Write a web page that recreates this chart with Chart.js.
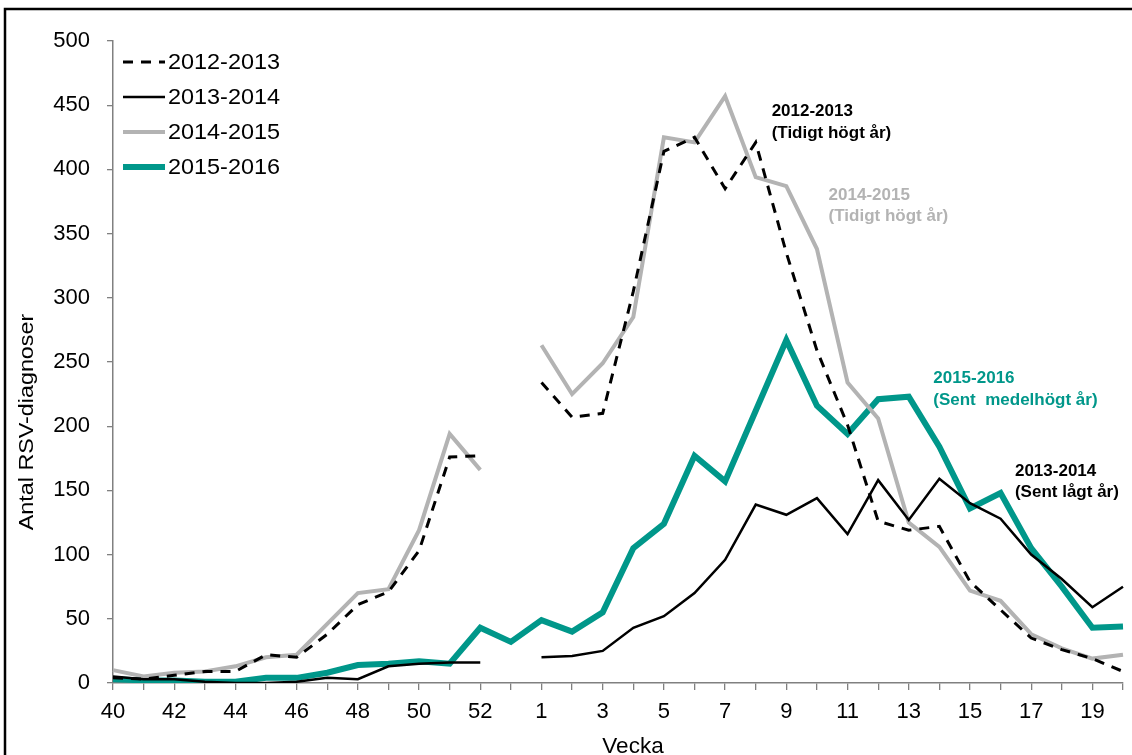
<!DOCTYPE html>
<html>
<head>
<meta charset="utf-8">
<script src="https://cdn.jsdelivr.net/npm/chart.js@4.4.1/dist/chart.umd.min.js"></script>
<style>
  body { margin: 0; background: #fff; }
  #wrap { width: 1132px; height: 755px; position: relative; }
</style>
</head>
<body>
<div id="wrap"><canvas id="chart"></canvas></div>
<script>
// weeks 40..53, then 1..20
const weeks = ['40','41','42','43','44','45','46','47','48','49','50','51','52','53',
  '1','2','3','4','5','6','7','8','9','10','11','12','13','14','15','16','17','18','19','20'];

// 2012-2013 (dashed)
const s2012 = [4, 3, 6, 9, 9, 22, 20, 38, 61, 71, 103, 176, 177, null,
  234, 207, 210, 305, 414, 425, 385, 421, 335, 259, 201, 126, 119, 122, 79, 57, 35, 26, 19, 9];
// 2013-2014
const s2013 = [5, 3, 3, 1, 0, 0, 1, 4, 3, 13, 15, 16, 16, null,
  20, 21, 25, 43, 52, 70, 96, 139, 131, 144, 116, 158, 127, 159, 140, 128, 100, 81, 59, 75];
// 2014-2015
const s2014 = [10, 5, 8, 9, 13, 20, 22, 46, 70, 73, 119, 194, 166, null,
  263, 225, 249, 285, 425, 421, 457, 394, 387, 338, 234, 206, 125, 106, 72, 64, 38, 27, 19, 22];
// 2015-2016
const s2015 = [3, 2, 2, 1, 1, 4, 4, 8, 14, 15, 17, 15, 43, 32,
  49, 40, 55, 105, 124, 177, 157, 212, 267, 216, 194, 221, 223, 184, 136, 148, 105, 75, 43, 44];

const seriesNames = ['2012-2013', '2013-2014', '2014-2015', '2015-2016'];

const TEAL = '#00978a';
const GREY = '#b3b3b3';
const FONT = "'Liberation Sans', Arial, sans-serif";

// notes on the chart: position in week-index / value units
const notes = [
  { lines: ['2012-2013', '(Tidigt högt år)'], x: 21.52, y: 445, color: '#000' },
  { lines: ['2014-2015', '(Tidigt högt år)'], x: 23.38, y: 380, color: GREY },
  { lines: ['2015-2016', '(Sent  medelhögt år)'], x: 26.8, y: 237, color: TEAL },
  { lines: ['2013-2014', '(Sent lågt år)'], x: 29.47, y: 165, color: '#000' }
];

// text a bit wider than the font, like the original
function wideText(ctx, txt, x, y, sx) {
  ctx.save();
  ctx.translate(x, y);
  ctx.scale(sx, 1);
  ctx.fillText(txt, 0, 0);
  ctx.restore();
}

const extras = {
  id: 'extras',
  afterDraw(chart) {
    const ctx = chart.ctx;
    const xs = chart.scales.x, ys = chart.scales.y;
    ctx.save();

    // frame
    ctx.strokeStyle = '#000';
    ctx.lineWidth = 2.5;
    ctx.beginPath();
    ctx.moveTo(5, 760);
    ctx.lineTo(5, 9);
    ctx.lineTo(1140, 9);
    ctx.stroke();

    // notes
    ctx.font = 'bold 17px ' + FONT;
    ctx.textAlign = 'left';
    ctx.textBaseline = 'middle';
    notes.forEach(n => {
      const px = xs.getPixelForValue(n.x);
      const py = ys.getPixelForValue(n.y);
      ctx.fillStyle = n.color;
      n.lines.forEach((t, i) => ctx.fillText(t, px, py + i * 21.5));
    });

    // legend
    ctx.font = '22px ' + FONT;
    chart.data.datasets.forEach((ds, i) => {
      const y = 62 + i * 35;
      ctx.strokeStyle = ds.borderColor;
      ctx.lineWidth = ds.borderWidth;
      ctx.setLineDash(ds.borderDash || []);
      ctx.beginPath();
      ctx.moveTo(123, y);
      ctx.lineTo(165, y);
      ctx.stroke();
      ctx.setLineDash([]);
      ctx.fillStyle = '#000';
      wideText(ctx, ds.label, 168, y + 1, 1.065);
    });

    // axis titles
    ctx.fillStyle = '#000';
    ctx.font = '22.5px ' + FONT;
    ctx.textAlign = 'center';
    ctx.fillText('Vecka', 633, 747);
    ctx.font = '21px ' + FONT;
    ctx.translate(27, 422);
    ctx.rotate(-Math.PI / 2);
    wideText(ctx, 'Antal RSV-diagnoser', 0, 0, 1.11);
    ctx.restore();
  }
};

new Chart(document.getElementById('chart'), {
  type: 'line',
  data: {
    labels: weeks,
    datasets: [
      { label: seriesNames[0], data: s2012, borderColor: '#000', borderWidth: 3, borderDash: [10, 8] },
      { label: seriesNames[1], data: s2013, borderColor: '#000', borderWidth: 2.5 },
      { label: seriesNames[2], data: s2014, borderColor: GREY, borderWidth: 4 },
      { label: seriesNames[3], data: s2015, borderColor: TEAL, borderWidth: 6 }
    ]
  },
  options: {
    responsive: true,
    maintainAspectRatio: false,
    animation: false,
    devicePixelRatio: 1,
    spanGaps: false,
    elements: { point: { radius: 0 }, line: { tension: 0, borderJoinStyle: 'miter', borderCapStyle: 'butt' } },
    layout: { padding: { top: 41, right: 4, left: 0, bottom: 0 } },
    plugins: { legend: { display: false }, tooltip: { enabled: false } },
    scales: {
      x: {
        offset: false,
        grid: { drawOnChartArea: false, drawTicks: true, tickLength: 7, color: '#808080', lineWidth: 1.3 },
        border: { color: '#808080', width: 1.5 },
        ticks: {
          autoSkip: false, maxRotation: 0, padding: 9, color: '#000',
          font: { family: FONT, size: 22 },
          callback: (v, i) => (i % 2 === 0 ? weeks[i] : '')
        },
        afterFit: s => { s.height = 72; }
      },
      y: {
        min: 0, max: 500,
        grid: { drawOnChartArea: false, drawTicks: true, tickLength: 6, color: '#808080', lineWidth: 1.3 },
        border: { color: '#808080', width: 1.5 },
        ticks: { stepSize: 50, padding: 17, color: '#000', font: { family: FONT, size: 22 } },
        afterFit: s => { s.width = 113; }
      }
    }
  },
  plugins: [extras]
});
</script>
</body>
</html>
